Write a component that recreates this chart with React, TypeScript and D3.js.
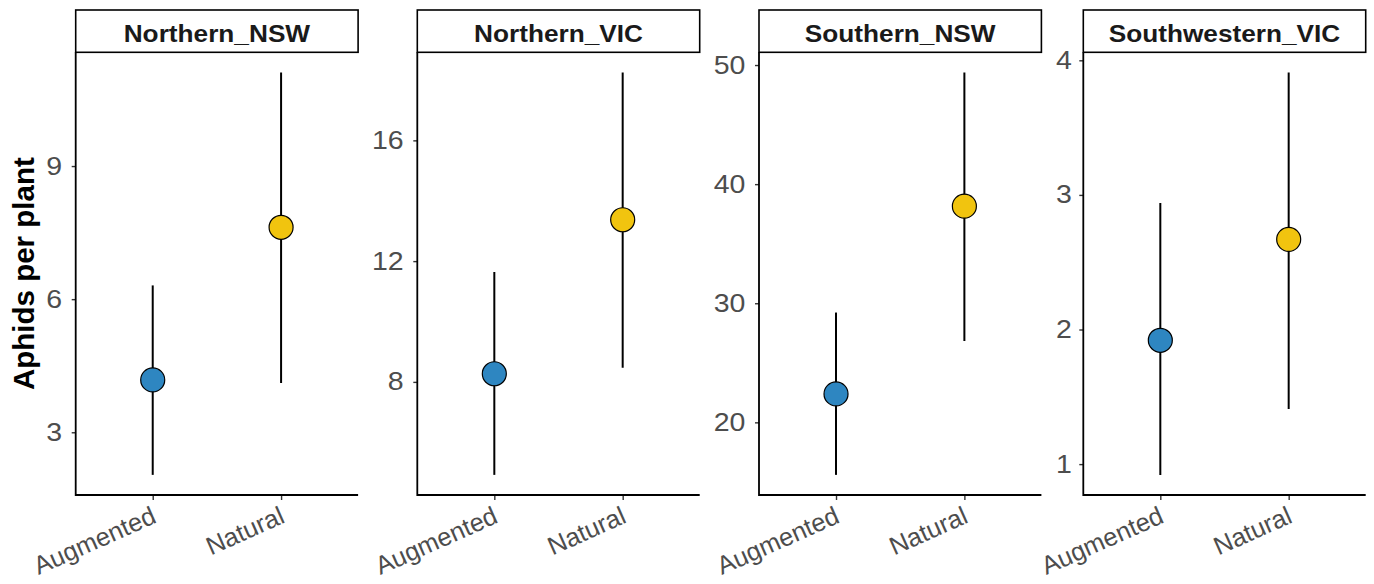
import React, { useEffect, useRef } from "react";
import * as d3 from "d3";

// facets and groups
const regions = ["Northern_NSW", "Northern_VIC", "Southern_NSW", "Southwestern_VIC"];
const treatments = ["Augmented", "Natural"];

// mean aphids per plant, one row per region (Augmented, Natural)
const meanValues = [
  [4.18, 7.62],
  [8.27, 13.37],
  [22.39, 38.15],
  [1.92, 2.67],
];
const lowerValues = [
  [2.04, 4.11],
  [4.92, 8.47],
  [15.59, 26.83],
  [0.92, 1.41],
];
const upperValues = [
  [6.31, 11.11],
  [11.64, 18.25],
  [29.22, 49.38],
  [2.94, 3.91],
];
const tickValues = [
  [3, 6, 9],
  [8, 12, 16],
  [20, 30, 40, 50],
  [1, 2, 3, 4],
];

const treatmentColors = ["#2E86C1", "#F1C40F"];

const width = 1374;
const height = 584;
const panelLefts = [75.7, 417.3, 759, 1083.3];
const panelWidth = 282.4;
const stripTop = 10;
const panelTop = 52.3;
const panelBottom = 495;
const stretch = 1.14; // text in the reference is a bit wider than tall
const font = "'Liberation Sans', Arial, Helvetica, sans-serif";

export default function App() {
  const ref = useRef<SVGSVGElement>(null);

  useEffect(() => {
    const svg = d3.select(ref.current);
    svg.selectAll("*").remove();

    regions.forEach((region, i) => {
      const left = panelLefts[i];
      const right = left + panelWidth;
      const lo = d3.min(lowerValues[i]) as number;
      const hi = d3.max(upperValues[i]) as number;
      const pad = (hi - lo) * 0.05;

      const y = d3.scaleLinear().domain([lo - pad, hi + pad]).range([panelBottom, panelTop]);
      const x = d3.scalePoint<string>().domain(treatments).range([left, right]).padding(0.6);

      const g = svg.append("g").attr("class", "panel");

      // strip
      g.append("rect")
        .attr("x", left)
        .attr("y", stripTop)
        .attr("width", panelWidth)
        .attr("height", panelTop - stripTop)
        .attr("fill", "white")
        .attr("stroke", "black")
        .attr("stroke-width", 1.6);
      g.append("text")
        .attr("transform", `translate(${(left + right) / 2},41.5) scale(${stretch},1)`)
        .attr("text-anchor", "middle")
        .attr("font-family", font)
        .attr("font-weight", "bold")
        .attr("font-size", 23)
        .attr("fill", "#1a1a1a")
        .text(region);

      // y axis
      const yAxis = d3.axisLeft(y)
        .tickValues(tickValues[i])
        .tickFormat(d3.format("d"))
        .tickSize(4)
        .tickPadding(i === 3 ? 6 : 8);
      const ya = g.append("g").attr("transform", `translate(${left},0)`).call(yAxis);
      ya.select(".domain").remove();
      ya.selectAll(".tick line").attr("stroke", "#333").attr("stroke-width", 1.4);
      ya.selectAll(".tick text")
        .attr("transform", `scale(${stretch},1)`)
        .attr("font-family", font)
        .attr("font-size", 25)
        .attr("fill", "#4d4d4d");

      // x axis ticks
      const xAxis = d3.axisBottom(x).tickSize(5).tickFormat(() => "");
      const xa = g.append("g").attr("transform", `translate(0,${panelBottom})`).call(xAxis);
      xa.select(".domain").remove();
      xa.selectAll(".tick line").attr("stroke", "#333").attr("stroke-width", 1.4);

      // axis lines
      g.append("path")
        .attr("d", `M${left},${panelTop}V${panelBottom}H${right}`)
        .attr("fill", "none")
        .attr("stroke", "black")
        .attr("stroke-width", 1.8);

      // x labels
      g.selectAll(".xlab")
        .data(treatments)
        .join("text")
        .attr("class", "xlab")
        .attr("transform", (d) => `translate(${(x(d) as number) + 5},522) rotate(-24)`)
        .attr("text-anchor", "end")
        .attr("font-family", font)
        .attr("font-size", 25.5)
        .attr("fill", "#4d4d4d")
        .text((d) => d);

      // error bars
      g.selectAll(".err")
        .data(treatments)
        .join("line")
        .attr("class", "err")
        .attr("x1", (d) => x(d) as number)
        .attr("x2", (d) => x(d) as number)
        .attr("y1", (_, j) => y(lowerValues[i][j]))
        .attr("y2", (_, j) => y(upperValues[i][j]))
        .attr("stroke", "black")
        .attr("stroke-width", 2);

      // points
      g.selectAll(".pt")
        .data(treatments)
        .join("circle")
        .attr("class", "pt")
        .attr("cx", (d) => x(d) as number)
        .attr("cy", (_, j) => y(meanValues[i][j]))
        .attr("r", 12)
        .attr("fill", (_, j) => treatmentColors[j])
        .attr("stroke", "black")
        .attr("stroke-width", 1.2);
    });

    svg.append("text")
      .attr("transform", `translate(34,${(panelTop + panelBottom) / 2}) rotate(-90)`)
      .attr("text-anchor", "middle")
      .attr("font-family", font)
      .attr("font-weight", "bold")
      .attr("font-size", 29.5)
      .attr("fill", "black")
      .text("Aphids per plant");
  }, []);

  return (
    <svg
      ref={ref}
      width={width}
      height={height}
      style={{ position: "absolute", left: 0, top: 0, background: "white" }}
    />
  );
}
